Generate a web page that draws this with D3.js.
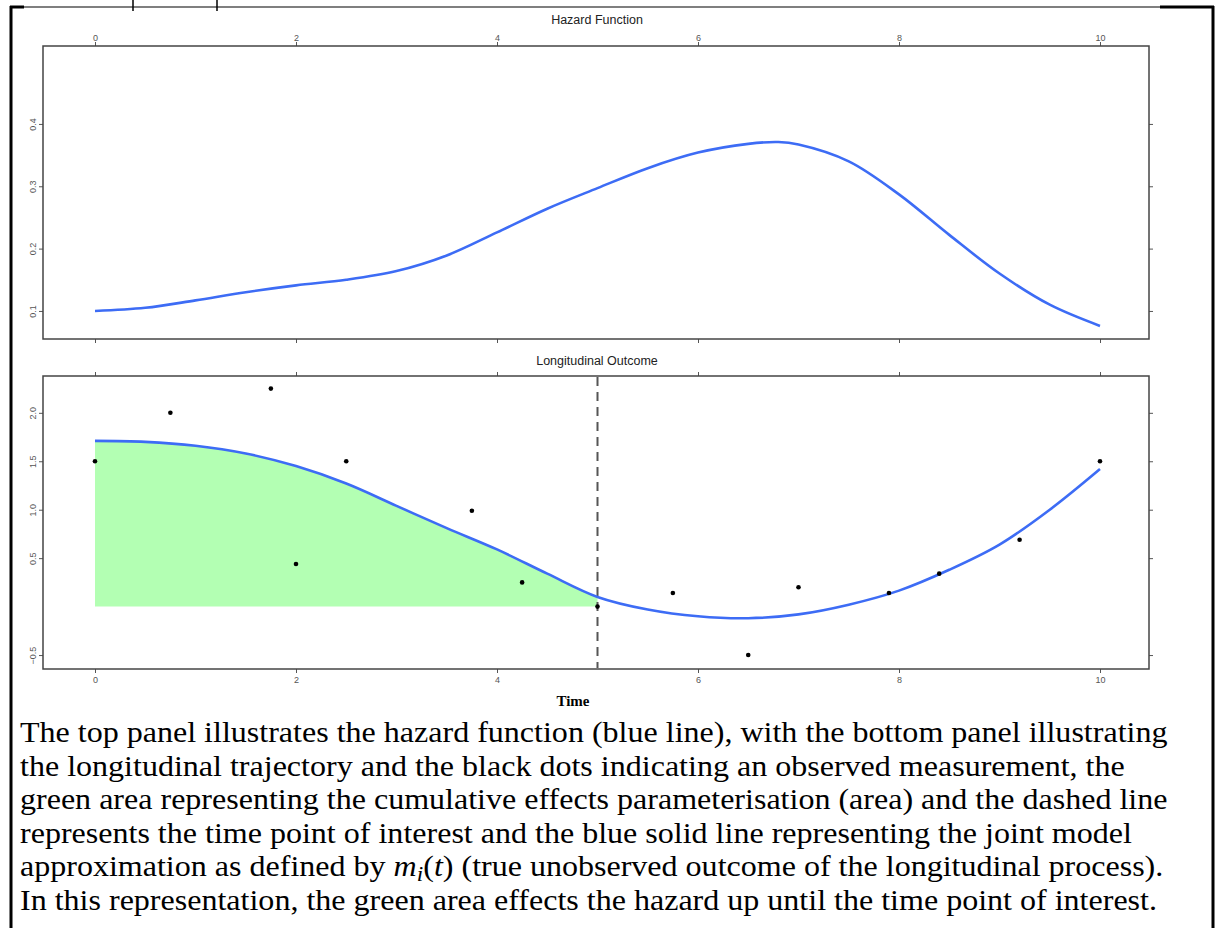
<!DOCTYPE html>
<html>
<head>
<meta charset="utf-8">
<script src="https://cdn.jsdelivr.net/npm/d3@7"></script>
<style>
  body { margin: 0; background: #fff; }
  svg { display: block; }
</style>
</head>
<body>
<script>
// hazard function (top panel)
const hazTime  = [0, 0.5, 1, 1.5, 2, 2.5, 3, 3.5, 4, 4.5, 5, 5.5, 6, 6.5, 6.8, 7, 7.5, 8, 8.5, 9, 9.5, 10];
const hazValue = [0.100, 0.105, 0.117, 0.130, 0.141, 0.150, 0.164, 0.189, 0.226, 0.264, 0.297, 0.329, 0.354, 0.368, 0.371, 0.367, 0.340, 0.287, 0.222, 0.160, 0.110, 0.076];

// longitudinal trajectory m_i(t) (bottom panel)
const longTime  = [0, 0.5, 1, 1.5, 2, 2.5, 3, 3.5, 4, 4.5, 5, 5.5, 6, 6.5, 7, 7.5, 8, 8.5, 9, 9.5, 10];
const longValue = [1.71, 1.70, 1.66, 1.58, 1.45, 1.27, 1.04, 0.81, 0.59, 0.34, 0.10, -0.03, -0.10, -0.12, -0.08, 0.02, 0.165, 0.38, 0.64, 1.00, 1.42];

// observed measurements
const obsTime  = [0, 0.75, 1.75, 2, 2.5, 3.75, 4.25, 5, 5.75, 6.5, 7, 7.9, 8.4, 9.2, 10];
const obsValue = [1.5, 2.0, 2.25, 0.44, 1.5, 0.99, 0.25, 0.0, 0.14, -0.5, 0.2, 0.14, 0.34, 0.69, 1.5];

const timeOfInterest = 5;

const xTicks    = [0, 2, 4, 6, 8, 10];
const hazTicks  = [0.1, 0.2, 0.3, 0.4];
const longTicks = [-0.5, 0.5, 1.0, 1.5, 2.0];

const captionLines = [
  "The top panel illustrates the hazard function (blue line), with the bottom panel illustrating",
  "the longitudinal trajectory and the black dots indicating an observed measurement, the",
  "green area representing the cumulative effects parameterisation (area) and the dashed line",
  "represents the time point of interest and the blue solid line representing the joint model",
  null, // line with math
  "In this representation, the green area effects the hazard up until the time point of interest."
];

const W = 1219, H = 928;
const left = 43, right = 1149;
const blue = "#3d6cf5", axisGrey = "#555";

const svg = d3.select("body").append("svg")
    .attr("width", W)
    .attr("height", H);

// page frame
const frame = svg.append("g").attr("stroke", "#000").attr("fill", "none");
frame.append("line").attr("x1", 11).attr("x2", 11).attr("y1", 6).attr("y2", H).attr("stroke-width", 3);
frame.append("line").attr("x1", 1213).attr("x2", 1213).attr("y1", 6).attr("y2", H).attr("stroke-width", 3);
frame.append("line").attr("x1", 10).attr("x2", 1214).attr("y1", 7).attr("y2", 7).attr("stroke-width", 1.2);
frame.append("line").attr("x1", 10).attr("x2", 24).attr("y1", 7).attr("y2", 7).attr("stroke-width", 3);
frame.append("line").attr("x1", 1160).attr("x2", 1214).attr("y1", 7).attr("y2", 7).attr("stroke-width", 3);
frame.append("line").attr("x1", 133).attr("x2", 133).attr("y1", 0).attr("y2", 11).attr("stroke-width", 1.5);
frame.append("line").attr("x1", 217).attr("x2", 217).attr("y1", 0).attr("y2", 11).attr("stroke-width", 1.5);

const x = d3.scaleLinear().domain([0, 10]).range([95, 1100]);

function panel(top, bottom, yScale, yTicks, title, titleY, labelTop) {
  const g = svg.append("g");

  // axes
  const ax = [
    d3.axisTop(x).tickValues(xTicks).tickSize(4).tickPadding(1),
    d3.axisBottom(x).tickValues(xTicks).tickSize(4).tickPadding(4)
  ];
  const gTop = g.append("g").attr("transform", `translate(0,${top})`).call(ax[0]);
  const gBot = g.append("g").attr("transform", `translate(0,${bottom})`).call(ax[1]);
  if (labelTop) gBot.selectAll("text").remove(); else gTop.selectAll("text").remove();

  const gL = g.append("g").attr("transform", `translate(${left},0)`)
      .call(d3.axisLeft(yScale).tickValues(yTicks).tickSize(4).tickFormat(d3.format(".1f")));
  gL.selectAll("text")
      .attr("x", null).attr("dy", null)
      .attr("text-anchor", "middle")
      .attr("transform", "translate(-7,0) rotate(-90)");
  const gR = g.append("g").attr("transform", `translate(${right},0)`)
      .call(d3.axisRight(yScale).tickValues(yTicks).tickSize(4));
  gR.selectAll("text").remove();

  g.selectAll(".domain").remove();
  g.selectAll(".tick line").attr("stroke", axisGrey);
  g.selectAll(".tick text")
      .attr("fill", axisGrey)
      .style("font", "9px 'Liberation Sans', Arial, sans-serif");

  g.append("rect")
      .attr("x", left).attr("y", top)
      .attr("width", right - left).attr("height", bottom - top)
      .attr("fill", "none").attr("stroke", "#444").attr("stroke-width", 1.5);

  g.append("text")
      .attr("x", 597).attr("y", titleY)
      .attr("text-anchor", "middle")
      .attr("fill", "#222")
      .style("font", "12.5px 'Liberation Sans', Arial, sans-serif")
      .text(title);
  return g;
}

// ---- top panel: hazard
const yHaz = d3.scaleLinear().domain([0.055, 0.525]).range([339, 46]);
panel(46, 339, yHaz, hazTicks, "Hazard Function", 24, true);

svg.append("path")
    .datum(hazTime.map((t, i) => [t, hazValue[i]]))
    .attr("fill", "none")
    .attr("stroke", blue)
    .attr("stroke-width", 2.6)
    .attr("d", d3.line().x(d => x(d[0])).y(d => yHaz(d[1])).curve(d3.curveCatmullRom));

// ---- bottom panel: longitudinal
const yLong = d3.scaleLinear().domain([-0.644, 2.38]).range([669, 376]);
panel(376, 669, yLong, longTicks, "Longitudinal Outcome", 365, false);

const longPts = longTime.map((t, i) => [t, longValue[i]]);

svg.append("path")
    .datum(longPts.filter(d => d[0] <= timeOfInterest))
    .attr("fill", "#b3ffb3")
    .attr("d", d3.area().x(d => x(d[0])).y0(yLong(0)).y1(d => yLong(d[1])).curve(d3.curveCatmullRom));

svg.append("line")
    .attr("x1", x(timeOfInterest)).attr("x2", x(timeOfInterest))
    .attr("y1", 377).attr("y2", 668)
    .attr("stroke", "#555")
    .attr("stroke-width", 2)
    .attr("stroke-dasharray", "9,6");

svg.append("path")
    .datum(longPts)
    .attr("fill", "none")
    .attr("stroke", blue)
    .attr("stroke-width", 2.6)
    .attr("d", d3.line().x(d => x(d[0])).y(d => yLong(d[1])).curve(d3.curveCatmullRom));

svg.append("g")
  .selectAll("circle")
  .data(obsTime.map((t, i) => [t, obsValue[i]]))
  .join("circle")
    .attr("cx", d => x(d[0]))
    .attr("cy", d => yLong(d[1]))
    .attr("r", 2.3)
    .attr("fill", "#000");

svg.append("text")
    .attr("x", 573).attr("y", 706)
    .attr("text-anchor", "middle")
    .style("font", "bold 15px 'Liberation Serif', 'Times New Roman', serif")
    .text("Time");

// ---- caption (slightly wide serif, as in the source document)
const cap = svg.append("g")
    .attr("transform", "translate(20,0) scale(1.105,1)")
    .style("font", "29px 'Liberation Serif', 'Times New Roman', serif")
    .attr("fill", "#000");

captionLines.forEach((s, i) => {
  const t = cap.append("text").attr("x", 0).attr("y", 742 + i * 33.6);
  if (s !== null) { t.text(s); return; }
  t.append("tspan").text("approximation as defined by ");
  t.append("tspan").style("font-style", "italic").text("m");
  t.append("tspan").style("font-style", "italic").style("font-size", "21px").attr("dy", 5).text("i");
  t.append("tspan").attr("dy", -5).text("(");
  t.append("tspan").style("font-style", "italic").text("t");
  t.append("tspan").text(") (true unobserved outcome of the longitudinal process).");
});
</script>
</body>
</html>
